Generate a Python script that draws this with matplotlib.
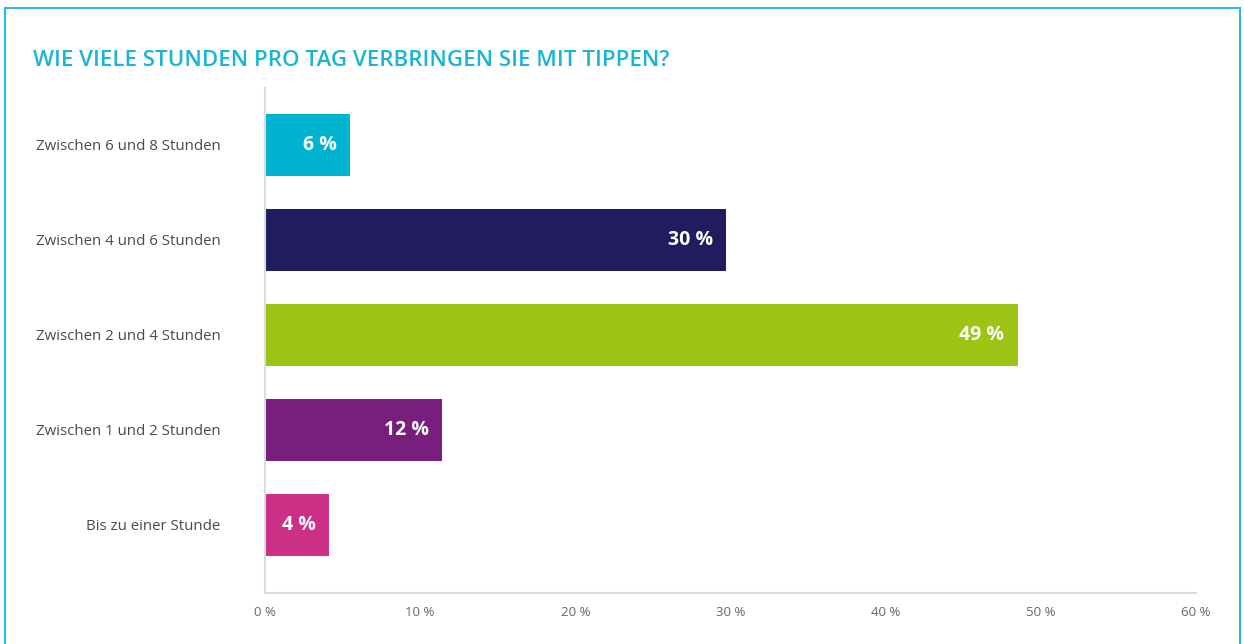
import matplotlib.pyplot as plt
from matplotlib.patches import Rectangle

categories = ["Bis zu einer Stunde", "Zwischen 1 und 2 Stunden", "Zwischen 2 und 4 Stunden",
              "Zwischen 4 und 6 Stunden", "Zwischen 6 und 8 Stunden"]
values = [4.1, 11.4, 48.5, 29.7, 5.5]
value_labels = ["4 %", "12 %", "49 %", "30 %", "6 %"]
colors = ["#cc2f86", "#781e7c", "#9dc414", "#201c5e", "#00b4d0"]
xticks = [0, 10, 20, 30, 40, 50, 60]

plt.rcParams['font.family'] = ['Open Sans', 'DejaVu Sans']

fig = plt.figure(figsize=(12.44, 6.44), dpi=100)
ax = fig.add_axes([265 / 1244, 51 / 644, 931 / 1244, 505 / 644])

y = range(len(categories))
ax.barh(y, values, height=0.66, color=colors)
for i, v in enumerate(values):
    ax.text(v - 0.85, i, value_labels[i], ha='right', va='center', color='white',
            fontsize=14, fontweight='bold')

ax.set_xlim(0, 60)
ax.set_ylim(-0.716, 4.6)
ax.set_yticks(list(y))
ax.set_yticklabels(categories, fontsize=10.8, color='#4a4a4a')
ax.set_xticks(xticks)
ax.set_xticklabels([f"{t} %" for t in xticks], fontsize=9.5, color='#666666')
ax.tick_params(axis='y', length=0, pad=32)
ax.tick_params(axis='x', length=0, pad=9)
for s in ['top', 'right']:
    ax.spines[s].set_visible(False)
for s in ['left', 'bottom']:
    ax.spines[s].set_color('#d8dde3')
    ax.spines[s].set_linewidth(1.5)

fig.text(33 / 1244, 1 - 60 / 644, "WIE VIELE STUNDEN PRO TAG VERBRINGEN SIE MIT TIPPEN?",
         ha='left', va='center', fontsize=16, fontweight='semibold', color='#1ab5d3')

# light blue frame around the chart
fig.patches.append(Rectangle((5 / 1244, -0.05), 1235 / 1244, 1.05 - 8 / 644,
                             transform=fig.transFigure, fill=False,
                             edgecolor='#2cb8ea', linewidth=1.5))

fig.savefig("out.png", dpi=100)
